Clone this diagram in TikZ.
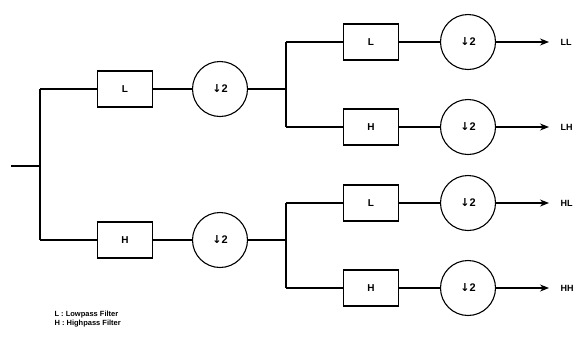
\documentclass[tikz,border=0pt]{standalone}
\usepackage{fontspec}
\setmainfont{Liberation Sans}
\newfontfamily\symfont{DejaVu Sans}
\usetikzlibrary{arrows.meta}
\begin{document}
\begin{tikzpicture}[x=1pt,y=-1pt,
  line width=1.1pt,
  filt/.style={draw,minimum width=55pt,minimum height=36pt,inner sep=0pt,font=\bfseries\fontsize{10}{10}\selectfont},
  down/.style={draw,circle,minimum size=55pt,inner sep=0pt,font=\bfseries\fontsize{11}{11}\selectfont},
  outl/.style={anchor=west,inner sep=0pt,font=\bfseries\fontsize{9}{9}\selectfont},
  arr/.style={-{Stealth[length=9pt,width=7pt]}}]
\useasboundingbox (0,0) rectangle (575,338);
% input
\coordinate (in) at (11,166);
\coordinate (j0) at (40,166);
\coordinate (j0t) at (40,89);
\coordinate (j0b) at (40,240);
% level 1
\node[filt] (f1) at (125,89) {L};
\node[filt] (f2) at (125,240) {H};
\node[down] (d1) at (220,89) {{\symfont\bfseries ↓}2};
\node[down] (d2) at (220,240) {{\symfont\bfseries ↓}2};
% level 2 junctions
\coordinate (j1) at (286,89);
\coordinate (j1t) at (286,42);
\coordinate (j1b) at (286,127);
\coordinate (j2) at (286,240);
\coordinate (j2t) at (286,203);
\coordinate (j2b) at (286,288);
% level 2
\node[filt] (f11) at (371,42) {L};
\node[filt] (f12) at (371,127) {H};
\node[filt] (f21) at (371,203) {L};
\node[filt] (f22) at (371,288) {H};
\node[down] (d11) at (468,42) {{\symfont\bfseries ↓}2};
\node[down] (d12) at (468,127) {{\symfont\bfseries ↓}2};
\node[down] (d21) at (468,203) {{\symfont\bfseries ↓}2};
\node[down] (d22) at (468,288) {{\symfont\bfseries ↓}2};
% outputs
\node[outl] (o11) at (560,42) {LL};
\node[outl] (o12) at (560,127) {LH};
\node[outl] (o21) at (560,203) {HL};
\node[outl] (o22) at (560,288) {HH};
% connectors
\draw (in) -- (j0);
\draw (j0t) -- (j0b);
\draw (j0t) -- (f1.west);
\draw (j0b) -- (f2.west);
\draw (f1) -- (d1);
\draw (f2) -- (d2);
\draw (d1) -- (j1);
\draw (d2) -- (j2);
\draw (j1t) -- (j1b);
\draw (j2t) -- (j2b);
\draw (j1t) -- (f11.west);
\draw (j1b) -- (f12.west);
\draw (j2t) -- (f21.west);
\draw (j2b) -- (f22.west);
\draw (f11) -- (d11);
\draw (f12) -- (d12);
\draw (f21) -- (d21);
\draw (f22) -- (d22);
\draw[arr] (d11) -- ([xshift=-11pt]o11.west);
\draw[arr] (d12) -- ([xshift=-11pt]o12.west);
\draw[arr] (d21) -- ([xshift=-11pt]o21.west);
\draw[arr] (d22) -- ([xshift=-11pt]o22.west);
% legend
\node[anchor=west,inner sep=0pt,font=\bfseries\fontsize{7.5}{8.5}\selectfont,align=left] (leg) at (54,319) {L : Lowpass Filter\\H : Highpass Filter};
\end{tikzpicture}
\end{document}
